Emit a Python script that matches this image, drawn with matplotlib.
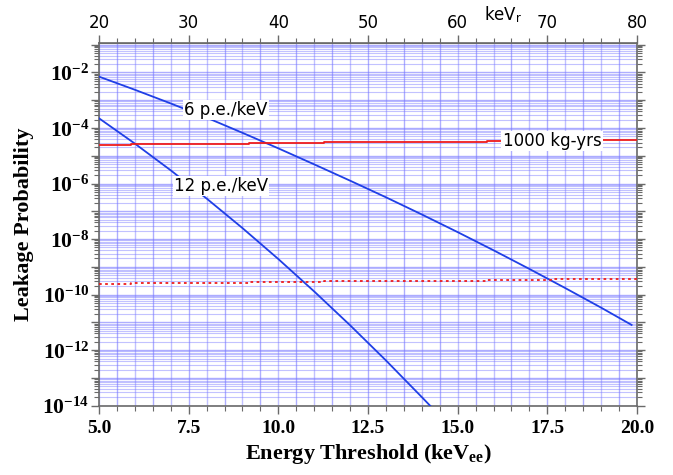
import matplotlib
matplotlib.use("Agg")
import matplotlib.pyplot as plt
import numpy as np
from matplotlib.ticker import FixedLocator, LogLocator, NullFormatter, FuncFormatter

plt.rcParams["mathtext.fontset"] = "custom"
plt.rcParams["mathtext.rm"] = "Liberation Serif"
plt.rcParams["mathtext.bf"] = "Liberation Serif:bold"
plt.rcParams["mathtext.it"] = "Liberation Serif:italic"

# Leakage probability vs. electron-equivalent threshold (keVee)
thr_6pe = [5.0, 6.0, 7.0, 8.0, 9.0, 10.0, 11.0, 12.0, 13.0, 14.0, 15.0, 16.0, 17.0, 18.0, 19.0, 19.85]
leak_6pe = [7.08e-3, 2.38e-3, 7.66e-4, 2.36e-4, 6.7e-5, 1.85e-5, 4.9e-6, 1.27e-6,
            3.2e-7, 7.7e-8, 1.78e-8, 3.95e-9, 8.4e-10, 1.72e-10, 3.39e-11, 8.1e-12]

thr_12pe = [5.0, 6.0, 7.0, 8.0, 9.0, 10.0, 11.0, 12.0, 13.0, 14.0, 14.3]
leak_12pe = [2.24e-4, 2.74e-5, 2.99e-6, 2.89e-7, 2.49e-8, 1.91e-9, 1.30e-10,
             7.9e-12, 4.27e-13, 2.04e-14, 8.1e-15]

# Background-free sensitivity for a 1000 kg-yr exposure (step function)
exp_thr = [5.0, 5.88, 7.51, 9.18, 11.27, 13.73, 15.83, 17.6, 19.02, 20.0]
exp_limit = [2.46e-5, 2.60e-5, 2.73e-5, 2.89e-5, 3.06e-5, 3.22e-5, 3.41e-5, 3.55e-5, 3.71e-5, 3.71e-5]
exp_scale_low = 1e-5

fig = plt.figure(figsize=(6.73, 4.75), dpi=100)
ax = fig.add_axes([99 / 673, 1 - 405.7 / 475, (637 - 99) / 673, (405.7 - 43.3) / 475])

ax.set_yscale("log")
ax.set_xlim(5.0, 20.0)
ax.set_ylim(1e-14, 10 ** -0.95)

# grid
for i, xv in enumerate(np.arange(5.0, 20.01, 0.5)):
    ax.axvline(xv, color="#6c6cff", lw=1.0, alpha=0.55 if i % 2 else 0.42, zorder=0)
for dec in range(-14, 0):
    for m in range(1, 10):
        yv = m * 10.0 ** dec
        if yv > 10 ** -0.95:
            continue
        ax.axhline(yv, color="#7878ff", lw=0.8 if m > 1 else 1.0,
                   alpha=0.45 if m > 1 else 0.6, zorder=0)

blue = "#1f3fe6"
red = "#ee1c1c"
ax.plot(thr_6pe, leak_6pe, color=blue, lw=1.3, zorder=3)
ax.plot(thr_12pe, leak_12pe, color=blue, lw=1.3, zorder=3)
ax.step(exp_thr, exp_limit, where="post", color=red, lw=1.3, zorder=3)
ax.step(exp_thr, [v * exp_scale_low for v in exp_limit], where="post",
        color=red, lw=1.3, dashes=(1.5, 1.9), zorder=3)

box = dict(facecolor="white", edgecolor="none", pad=1.0)
ax.text(8.54, 10 ** -3.35, "6 p.e./keV", fontsize=12, family="DejaVu Sans",
        ha="center", va="center", bbox=box, zorder=4)
ax.text(8.40, 10 ** -6.09, "12 p.e./keV", fontsize=12, family="DejaVu Sans",
        ha="center", va="center", bbox=box, zorder=4)
ax.text(17.63, 10 ** -4.47, "1000 kg-yrs", fontsize=12, family="DejaVu Sans",
        ha="center", va="center", bbox=box, zorder=4)

# spines / ticks
for s in ax.spines.values():
    s.set_color("#6a6a6a")
    s.set_linewidth(1.2)

ax.xaxis.set_major_locator(FixedLocator([5.0, 7.5, 10.0, 12.5, 15.0, 17.5, 20.0]))
ax.xaxis.set_minor_locator(FixedLocator(np.arange(5.0, 20.01, 0.5)))
ax.xaxis.set_major_formatter(FuncFormatter(lambda v, p: f"{v:.1f}"))
ax.yaxis.set_major_locator(LogLocator(base=10, numticks=30))
ax.yaxis.set_minor_locator(LogLocator(base=10, subs=np.arange(2, 10), numticks=30))
ax.yaxis.set_minor_formatter(NullFormatter())


def ylab(v, p):
    e = int(round(np.log10(v)))
    if e % 2 != 0:
        return ""
    return r"$\mathbf{10^{%d}}$" % e


ax.yaxis.set_major_formatter(FuncFormatter(ylab))
ax.tick_params(axis="both", which="major", direction="out", length=6, width=1.0,
               color="#6a6a6a", right=True, top=False)
ax.tick_params(axis="both", which="minor", direction="out", length=3.5, width=0.8,
               color="#6a6a6a", right=True, top=False)
ax.tick_params(axis="y", which="major", labelsize=15.5, pad=1)
ax.tick_params(axis="x", which="major", labelsize=14, pad=4)
for lab in ax.get_xticklabels():
    lab.set_fontfamily("Liberation Serif")
    lab.set_fontweight("bold")

sec = ax.secondary_xaxis("top", functions=(lambda x: 4 * x, lambda x: x / 4))
sec.xaxis.set_major_locator(FixedLocator(np.arange(20, 81, 10)))
sec.xaxis.set_minor_locator(FixedLocator(np.arange(20, 81, 2)))
sec.tick_params(which="major", direction="out", length=6, width=1.0, color="#6a6a6a",
                labelsize=12, pad=2)
sec.tick_params(which="minor", direction="out", length=3.5, width=0.8, color="#6a6a6a")
sec.spines["top"].set_color("#6a6a6a")
for lab in sec.xaxis.get_ticklabels():
    lab.set_fontfamily("DejaVu Sans")

fig.text(503 / 673, 1 - 15 / 475, "keV$_\\mathregular{r}$", fontsize=12,
         family="DejaVu Sans", ha="center", va="center")

ax.set_xlabel(r"Energy Threshold (keV$_{\mathbf{ee}}$)", fontsize=16,
              family="Liberation Serif", fontweight="bold", labelpad=4)
ax.set_ylabel("Leakage Probability", fontsize=16, family="Liberation Serif",
              fontweight="bold", labelpad=6)

fig.savefig("out.png", dpi=100)
